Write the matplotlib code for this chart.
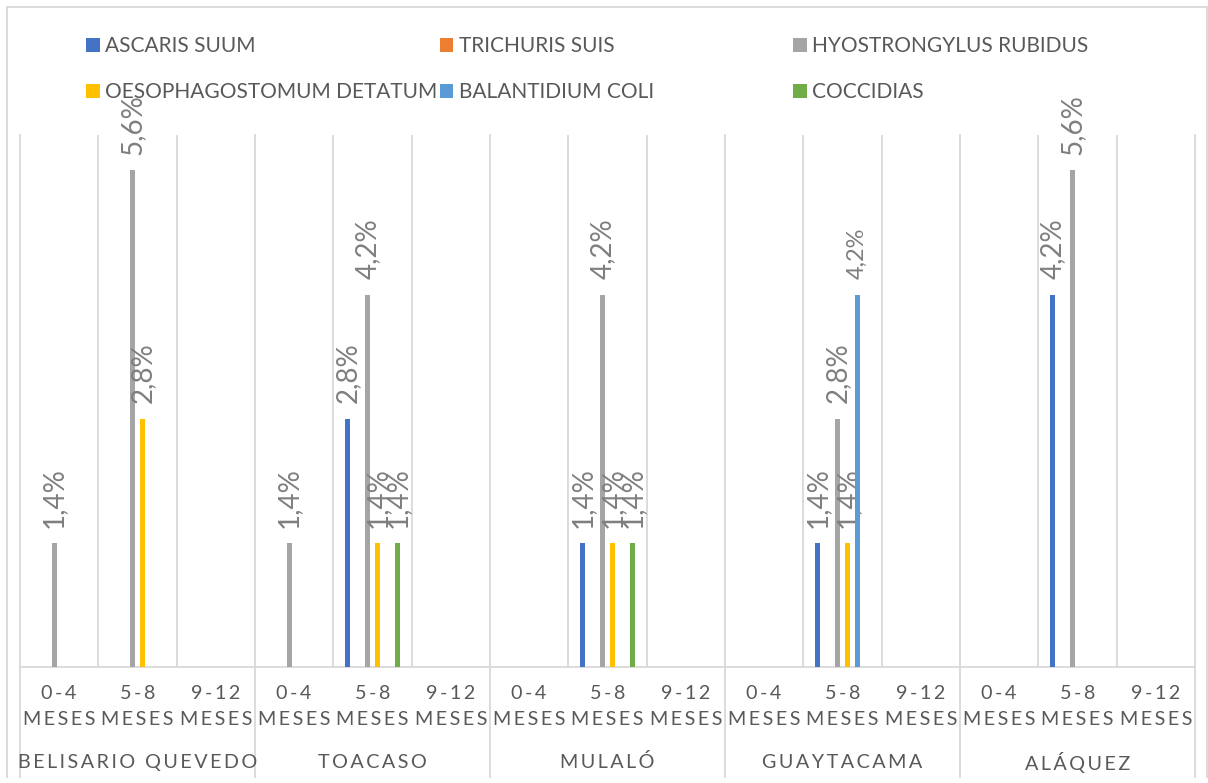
import numpy as np
import matplotlib.pyplot as plt
from matplotlib.patches import Patch
from matplotlib.lines import Line2D
import matplotlib.transforms as mtransforms

plt.rcParams['font.family'] = ['Lato', 'DejaVu Sans']

parroquias = ['BELISARIO QUEVEDO', 'TOACASO', 'MULALÓ', 'GUAYTACAMA', 'ALÁQUEZ']
edades = ['0-4', '5-8', '9-12']

series = ['ASCARIS SUUM', 'TRICHURIS SUIS', 'HYOSTRONGYLUS RUBIDUS',
          'OESOPHAGOSTOMUM DETATUM', 'BALANTIDIUM COLI', 'COCCIDIAS']
colores = ['#4472C4', '#ED7D31', '#A5A5A5', '#FFC000', '#5B9BD5', '#70AD47']

# porcentajes por parroquia y edad (0-4, 5-8, 9-12)
ascaris = [0, 0, 0, 0, 2.8, 0, 0, 1.4, 0, 0, 1.4, 0, 0, 4.2, 0]
trichuris = [0, 0, 0, 0, 0, 0, 0, 0, 0, 0, 0, 0, 0, 0, 0]
hyostrongylus = [1.4, 5.6, 0, 1.4, 4.2, 0, 0, 4.2, 0, 0, 2.8, 0, 0, 5.6, 0]
oesophagostomum = [0, 2.8, 0, 0, 1.4, 0, 0, 1.4, 0, 0, 1.4, 0, 0, 0, 0]
balantidium = [0, 0, 0, 0, 0, 0, 0, 0, 0, 0, 4.2, 0, 0, 0, 0]
coccidias = [0, 0, 0, 0, 1.4, 0, 0, 1.4, 0, 0, 0, 0, 0, 0, 0]
valores = [ascaris, trichuris, hyostrongylus, oesophagostomum, balantidium, coccidias]
label_size = [20, 20, 20, 20, 17, 20]

W, H = 1208, 783
fig = plt.figure(figsize=(W / 100, H / 100), dpi=100)
ax = fig.add_axes([20 / W, 116 / H, 1175 / W, 532 / H])

grid_c = '#D9D9D9'
n = len(parroquias) * len(edades)
x = np.arange(n)
slot = 0.1277
ancho = 0.064

for i, vals in enumerate(valores):
    pos = x + (i - 2.5) * slot
    ax.bar(pos, vals, width=ancho, color=colores[i], zorder=3)
    for px, v in zip(pos, vals):
        if v > 0:
            ax.annotate(f'{v:.1f}%'.replace('.', ','), (px, v), xytext=(0, 11),
                        textcoords='offset points', rotation=90, ha='center',
                        va='bottom', color='#7F7F7F', fontsize=label_size[i])

ax.set_xlim(-0.5, n - 0.5)
ax.set_ylim(0, 6)
ax.set_yticks([])
ax.set_xticks([])
for s in ['top', 'left', 'right']:
    ax.spines[s].set_visible(False)
ax.spines['bottom'].set_color(grid_c)
ax.spines['bottom'].set_linewidth(1.3)

# lineas verticales entre categorias
for b in np.arange(-0.5, n, 1):
    if b % 3 == 2.5 or b == -0.5:
        ax.axvline(b, ymin=-0.207, ymax=1, color=grid_c, lw=1.3, clip_on=False, zorder=1)
    else:
        ax.axvline(b, color=grid_c, lw=1.3, zorder=1)

trans = mtransforms.blended_transform_factory(ax.transData, ax.transAxes)
sp = '\u2009'
for k in range(n):
    ax.text(k, -0.049, sp.join(edades[k % 3]), transform=trans, ha='center',
            va='center', fontsize=14.2, color='#595959')
    ax.text(k, -0.0996, sp.join('MESES'), transform=trans, ha='center',
            va='center', fontsize=14.2, color='#595959')
for g, nombre in enumerate(parroquias):
    ax.text(g * 3 + 1, -0.179, sp.join(nombre), transform=trans, ha='center',
            va='center', fontsize=14.2, color='#595959')

# leyenda en tres columnas de igual ancho
handles = [Patch(facecolor=c, edgecolor='none') for c in colores]
cols = [[0, 3], [1, 4], [2, 5]]
for j, col in enumerate(cols):
    leg = fig.legend([handles[i] for i in col], [series[i] for i in col],
                     loc='upper left', bbox_to_anchor=((86 + 353.5 * j) / W, 1 - 36 / H),
                     frameon=False, fontsize=15, borderpad=0, borderaxespad=0,
                     handlelength=0.67, handleheight=0.67, handletextpad=0.25,
                     labelspacing=1.25)
    for t in leg.get_texts():
        t.set_color('#595959')

# borde del grafico
for xs, ys in [([7, 7], [7, 777]), ([7, 1207], [7, 7]), ([1207, 1207], [7, 777])]:
    fig.add_artist(Line2D([v / W for v in xs], [1 - v / H for v in ys],
                          color=grid_c, lw=1.3))

fig.savefig('out.png', dpi=100, facecolor='white')
